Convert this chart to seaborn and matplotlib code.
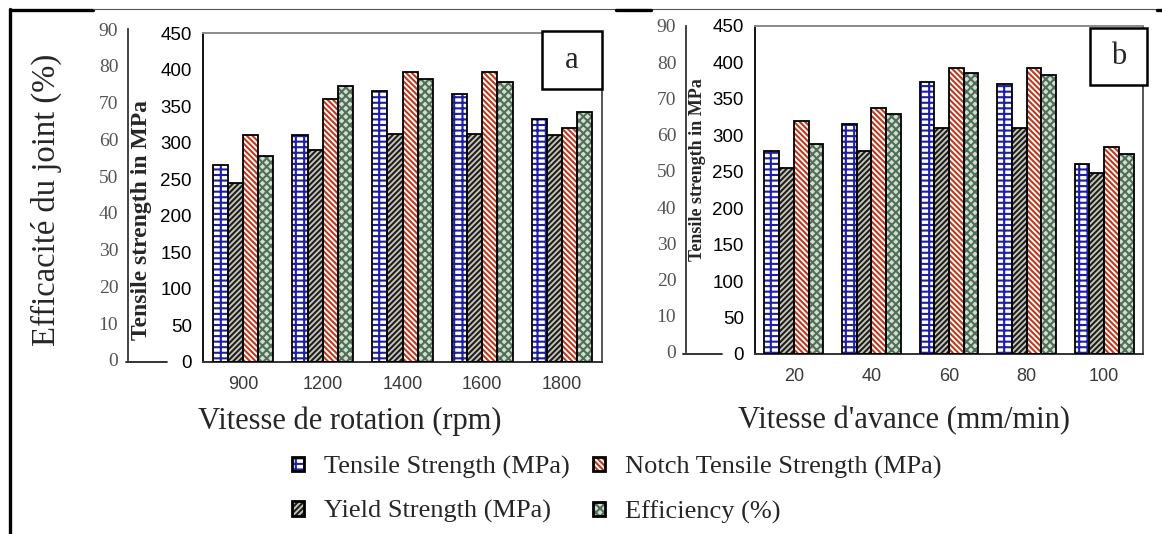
import numpy as np
import pandas as pd
import matplotlib
matplotlib.use("Agg")
import matplotlib.pyplot as plt
import seaborn as sns
from matplotlib.patches import Rectangle, Patch
from matplotlib.lines import Line2D

# ---------------- data ----------------
series = ["Tensile Strength (MPa)", "Yield Strength (MPa)",
          "Notch Tensile Strength (MPa)", "Efficiency (%)"]

rot_speeds = ["900", "1200", "1400", "1600", "1800"]
ts_a = [270, 310, 371, 367, 333]
ys_a = [245, 290, 312, 312, 310]
nts_a = [310, 360, 396, 396, 320]
eff_a = [56.4, 75.6, 77.4, 76.6, 68.4]

feed_speeds = ["20", "40", "60", "80", "100"]
ts_b = [279, 315, 373, 371, 260]
ys_b = [255, 279, 310, 310, 248]
nts_b = [320, 338, 393, 393, 284]
eff_b = [57.6, 65.8, 77.2, 76.6, 55.0]

mpa_ticks = list(range(0, 451, 50))
eff_ticks = list(range(0, 91, 10))

# ---------------- style ----------------
sns.set_style("white")
plt.rcParams["hatch.linewidth"] = 1.5
SERIF = "Liberation Serif"
SANS = "Liberation Sans"

faces = ["#ffffff", "#c9c9bb", "#ffffff", "#d3ddd3"]
hcols = ["#1f1fa6", "#1e1e1e", "#c0391e", "#4f7056"]
hatches = ["---||", "//////", "\\\\\\\\\\\\", "xxxx"]

W, H = 1162, 534
fig = plt.figure(figsize=(W / 100, H / 100), dpi=100)
fig.patch.set_facecolor("white")


def long_df(cats, ts, ys, nts, eff):
    rows = []
    for vals, name in zip([ts, ys, nts, [e * 450 / 90 for e in eff]], series):
        for c, v in zip(cats, vals):
            rows.append({"cat": c, "series": name, "val": v})
    return pd.DataFrame(rows)


def panel(rect, eff_rect, cats, ts, ys, nts, eff, letter, box, zero_line):
    ax = fig.add_axes(rect)
    df = long_df(cats, ts, ys, nts, eff)
    sns.barplot(data=df, x="cat", y="val", hue="series", order=cats,
                hue_order=series, palette=faces, saturation=1, width=0.76,
                linewidth=0, ax=ax, legend=False, errorbar=None)
    for ci, cont in enumerate(ax.containers):
        for bar in cont:
            bar.set_hatch(hatches[ci])
            bar.set_edgecolor(hcols[ci])
            bar.set_linewidth(0)
            ax.add_patch(Rectangle((bar.get_x(), bar.get_y()), bar.get_width(),
                                   bar.get_height(), fill=False,
                                   edgecolor="black", lw=1.3, zorder=3))
    ax.set_xlim(-0.5, len(cats) - 0.5)
    ax.set_ylim(0, 450)
    ax.set_yticks(mpa_ticks)
    ax.set_xticks(range(len(cats)))
    ax.set_xticklabels(cats)
    ax.set_xticks(np.arange(-0.5, len(cats), 1.0), minor=True)
    ax.set_xlabel("")
    ax.set_ylabel("")
    ax.tick_params(axis="x", which="major", length=0, pad=10,
                   labelsize=13, labelcolor="#3a3a3a")
    ax.tick_params(axis="x", which="minor", length=6, width=1.2,
                   direction="out", color="#333333")
    ax.tick_params(axis="y", length=5, width=1.2, direction="out",
                   color="#222222", labelsize=13.5, labelcolor="#000000", pad=3)
    for lab in ax.get_xticklabels() + ax.get_yticklabels():
        lab.set_family(SANS)
    for s, c in zip(["left", "bottom", "top", "right"],
                    ["#111111", "#333333", "#8a8a8a", "#555555"]):
        ax.spines[s].set_visible(True)
        ax.spines[s].set_color(c)
        ax.spines[s].set_linewidth(1.4)
    # zero connector line between the two scales
    ax.plot(zero_line, [0, 0], transform=ax.get_yaxis_transform(),
            color="#222222", lw=1.3, clip_on=False)
    # panel letter box
    ax.add_patch(Rectangle((box[0], box[1]), box[2], box[3],
                           transform=ax.transAxes, facecolor="white",
                           edgecolor="black", lw=1.8, clip_on=False, zorder=6))
    ax.text(box[0] + box[2] / 2, box[1] + box[3] / 2, letter,
            transform=ax.transAxes, ha="center", va="center",
            family=SERIF, fontsize=22, zorder=7)

    # efficiency scale
    axe = fig.add_axes(eff_rect)
    axe.set_ylim(0, 90)
    axe.set_yticks(eff_ticks)
    axe.set_xticks([])
    axe.patch.set_visible(False)
    for s in ["bottom", "top", "right"]:
        axe.spines[s].set_visible(False)
    axe.spines["left"].set_color("#333333")
    axe.spines["left"].set_linewidth(1.3)
    axe.tick_params(axis="y", length=6, width=1.1, direction="out",
                    color="#333333", labelsize=14, labelcolor="#555555", pad=1)
    for lab in axe.get_yticklabels():
        lab.set_family(SERIF)
    return ax


panel([203 / W, 1 - 362 / H, 399 / W, 329 / H],
      [128 / W, 1 - 360 / H, 0.0005, 331 / H],
      rot_speeds, ts_a, ys_a, nts_a, eff_a, "a",
      (0.85, 0.83, 0.15, 0.175), [-0.193, -0.09])
panel([755 / W, 1 - 354 / H, 388 / W, 328 / H],
      [686 / W, 1 - 352 / H, 0.0005, 326 / H],
      feed_speeds, ts_b, ys_b, nts_b, eff_b, "b",
      (0.863, 0.82, 0.147, 0.175), [-0.186, -0.085])

# axis labels
fig.text(46 / W, 1 - 200 / H, "Efficacité du joint (%)", rotation=90,
         ha="center", va="center", family=SERIF, fontsize=23.5)
fig.text(142 / W, 1 - 220 / H, "Tensile strength in MPa", rotation=90,
         ha="center", va="center", family=SERIF, fontsize=17, weight="bold")
fig.text(697 / W, 1 - 170 / H, "Tensile strength in MPa", rotation=90,
         ha="center", va="center", family=SERIF, fontsize=13, weight="bold")
fig.text(350 / W, 1 - 421 / H, "Vitesse de rotation (rpm)",
         ha="center", va="center", family=SERIF, fontsize=22)
fig.text(904 / W, 1 - 421 / H, "Vitesse d'avance (mm/min)",
         ha="center", va="center", family=SERIF, fontsize=22)

# legend
handles = []
for ci in range(4):
    handles.append((Patch(facecolor=faces[ci], edgecolor=hcols[ci],
                          hatch=hatches[ci], linewidth=0),
                    Patch(facecolor="none", edgecolor="black", linewidth=2.0)))
fig.legend(handles, series, ncol=2, loc="upper left",
           bbox_to_anchor=(292 / W, 1 - 456 / H), frameon=False,
           prop={"family": SERIF, "size": 19}, handlelength=0.45,
           handleheight=0.45, handletextpad=0.75, columnspacing=0.9,
           labelspacing=0.8, borderpad=0, borderaxespad=0)

# page/table border lines
fig.add_artist(Line2D([10 / W, 10 / W], [1 - 9 / H, 0], color="black", lw=2.4))
fig.add_artist(Line2D([10 / W, 93 / W], [1 - 10 / H] * 2, color="black", lw=2.4))
fig.add_artist(Line2D([93 / W, 1157 / W], [1 - 9 / H] * 2, color="#555555", lw=0.8))
fig.add_artist(Line2D([616 / W, 651 / W], [1 - 10 / H] * 2, color="black", lw=2.4))
fig.add_artist(Line2D([1157 / W, 1162 / W], [1 - 10 / H] * 2, color="black", lw=2.4))

fig.savefig("out.png", dpi=100, facecolor="white")
